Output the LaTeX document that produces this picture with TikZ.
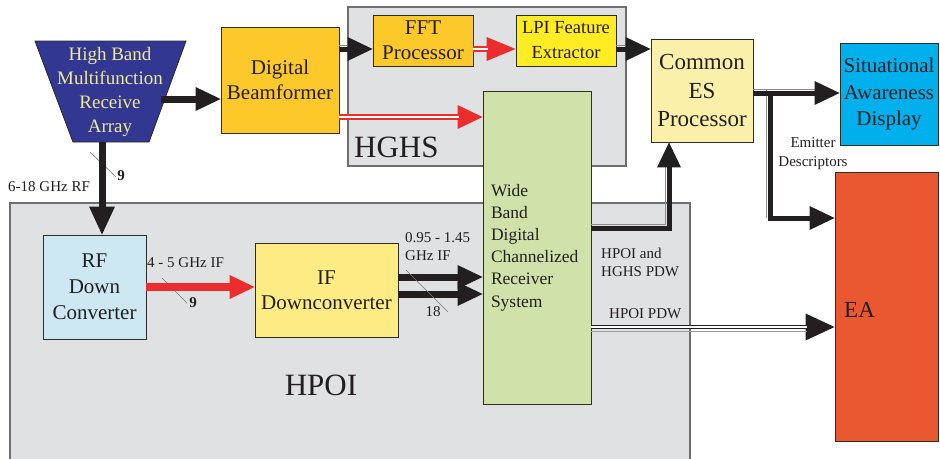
\documentclass[tikz,border=0pt]{standalone}
\usepackage{fontspec}
\setmainfont{Liberation Serif}
\usetikzlibrary{arrows.meta}
\definecolor{panelgray}{RGB}{224,225,227}
\definecolor{panelline}{RGB}{110,110,110}
\definecolor{boxline}{RGB}{45,45,40}
\definecolor{txt}{RGB}{35,31,32}
\definecolor{arrblack}{RGB}{35,31,32}
\definecolor{arrred}{RGB}{236,45,46}
\definecolor{orangeY}{RGB}{253,200,42}
\definecolor{lpiY}{RGB}{255,236,35}
\definecolor{cesY}{RGB}{250,240,170}
\definecolor{sadB}{RGB}{0,176,236}
\definecolor{eaR}{RGB}{233,88,48}
\definecolor{wbG}{RGB}{208,226,170}
\definecolor{rfB}{RGB}{205,232,242}
\definecolor{ifY}{RGB}{253,236,132}
\definecolor{arrayB}{RGB}{50,56,146}
\definecolor{arrayT}{RGB}{240,232,150}
\definecolor{slashc}{RGB}{120,120,120}
\begin{document}
\begin{tikzpicture}[x=1pt,y=-1pt,
  box/.style={draw=boxline, line width=0.9pt, inner sep=0pt, align=center, text=txt, font=\fontsize{21}{25}\selectfont},
  panel/.style={fill=panelgray, draw=panelline, line width=1.1pt, inner sep=0pt},
  headtip/.style={-{Triangle[length=25pt,width=24pt,line width=0pt]}},
  blkarr/.style={headtip, draw=arrblack, line width=7pt},
  blkthin/.style={headtip, draw=arrblack, line width=5pt},
  redarr/.style={headtip, draw=arrred, line width=6pt},
  redgap/.style={draw=white, line width=1.2pt, shorten >=24pt},
  shadow/.style={draw=black!45, line width=0.8pt},
  lbl/.style={text=txt, inner sep=0pt, font=\fontsize{15}{18}\selectfont},
  slashline/.style={draw=slashc, line width=0.6pt},
  bigtxt/.style={text=txt, inner sep=0pt, font=\fontsize{31}{31}\selectfont},
]
\clip (0,0) rectangle (940,458);
\fill[white] (0,0) rectangle (940,458);

% panels
\node[panel, minimum width=278, minimum height=159] (hghs) at (487,86.5) {};
\node[panel, minimum width=680, minimum height=280] (hpoi) at (350,343) {};
\node[bigtxt, anchor=west] (hghslbl) at (354,147) {HGHS};
\node[bigtxt] (hpoilbl) at (321,385) {HPOI};

% array (trapezoid)
\path[fill=arrayB, draw=boxline, line width=0.9pt] (35,41) -- (186,41) -- (149,142) -- (73,142) -- cycle;
\node[text=arrayT, align=center, inner sep=0pt, font=\fontsize{19}{23.7}\selectfont] (arr) at (110,92) {High Band\\Multifunction\\Receive\\Array};
\coordinate (arrE) at (161,99);
\coordinate (arrS) at (102,142);

% boxes
\node[box, fill=orangeY, minimum width=118, minimum height=106] (dbf) at (280,80) {Digital\\Beamformer};
\node[box, fill=orangeY, minimum width=100, minimum height=51] (fft) at (423,40.5) {FFT\\Processor};
\node[box, fill=lpiY, minimum width=100, minimum height=51, font=\fontsize{18.5}{25}\selectfont] (lpi) at (566,40.5) {LPI Feature\\Extractor};
\node[box, fill=cesY, minimum width=102, minimum height=103, font=\fontsize{23}{28.5}\selectfont] (ces) at (702,90.5) {Common\\ES\\Processor};
\node[box, fill=sadB, minimum width=98, minimum height=102, font=\fontsize{21}{26.5}\selectfont] (sad) at (889,94) {Situational\\Awareness\\Display};
\node[box, fill=eaR, minimum width=103, minimum height=269] (ea) at (886.5,306.5) {};
\node[text=txt, inner sep=0pt, font=\fontsize{23}{23}\selectfont, anchor=west] (ealbl) at (844,310) {EA};
\node[box, fill=wbG, minimum width=108, minimum height=313, text width=92, align=left, font=\fontsize{17.5}{22.2}\selectfont] (wb) at (537,247.5) {Wide\\Band\\Digital\\Channelized\\Receiver\\System};
\node[box, fill=rfB, minimum width=103, minimum height=104, font=\fontsize{21}{26}\selectfont] (rfdc) at (94.5,287) {RF\\Down\\Converter};
\node[box, fill=ifY, minimum width=143, minimum height=94] (ifdc) at (326.5,290) {IF\\Downconverter};

% labels
\node[lbl, anchor=west] (l618) at (8,187) {6-18 GHz RF};
\draw[slashline] (90,152) -- (116,177);
\node[lbl] (n9a) at (121,176) {\textbf{9}};
\node[lbl, anchor=west] (l45) at (147,263) {4 - 5 GHz IF};
\draw[slashline] (162,278) -- (187,303);
\node[lbl] (n9b) at (193,303) {\textbf{9}};
\node[lbl, anchor=west] (l095) at (405,238) {0.95 - 1.45};
\node[lbl, anchor=west] (lghz) at (405,256) {GHz IF};
\node[lbl] (n18) at (433,312) {18};
\node[lbl, anchor=west] (lhh) at (601,253) {HPOI and};
\node[lbl, anchor=west] (lhh2) at (601,272) {HGHS PDW};
\node[lbl, anchor=west] (lhp) at (609,314) {HPOI PDW};
\node[lbl, align=center, font=\fontsize{15}{19}\selectfont] (lem) at (813,153.5) {Emitter\\Descriptors};

% connectors
\coordinate (r49) at (0,49);
\coordinate (r45) at (0,45);
\coordinate (r117) at (0,117);
\coordinate (r287) at (0,287);
\coordinate (r277) at (0,277);
\coordinate (r294) at (0,294);
\coordinate (r228) at (0,228);
\coordinate (r224) at (0,224);
\coordinate (c669) at (669,0);
\coordinate (c665) at (665,0);
\coordinate (r93) at (0,93);
\coordinate (r89) at (0,89);
\coordinate (brn) at (770,93);
\coordinate (brs) at (766,89);
\coordinate (r218) at (0,218);
\coordinate (r327) at (0,327);
\coordinate (r331) at (0,331);

% faint shadow lines beside black connectors
\draw[shadow, shorten >=25pt] (dbf.east |- r45) -- (fft.west |- r45);
\draw[shadow, shorten >=25pt] (lpi.east |- r45) -- (ces.west |- r45);
\draw[shadow, shorten >=25pt] (ces.east |- r89) -- (sad.west |- r89);
\draw[shadow] (brs) -- (brs |- r218);
\draw[shadow, shorten >=25pt] (wb.east |- r224) -| (c665 |- ces.south);

\draw[blkarr] (arrE) -- (arrE -| dbf.west);
\draw[blkarr, -{Triangle[length=28pt,width=26pt,line width=0pt]}] (arrS) -- (arrS |- rfdc.north);
\draw[blkthin] (dbf.east |- r49) -- (fft.west |- r49);
\draw[redarr, -{Triangle[length=29pt,width=24pt,line width=0pt]}] (fft.east |- r49) -- (lpi.west |- r49);
\draw[redgap, shorten >=28pt] (fft.east |- r49) -- (lpi.west |- r49);
\draw[blkthin] (lpi.east |- r49) -- (ces.west |- r49);
\draw[redarr] (dbf.east |- r117) -- (wb.west |- r117);
\draw[redgap] (dbf.east |- r117) -- (wb.west |- r117);
\draw[redarr, line width=8pt] (rfdc.east |- r287) -- (ifdc.west |- r287);
\draw[blkarr] (ifdc.east |- r277) -- (wb.west |- r277);
\draw[blkarr] (ifdc.east |- r294) -- (wb.west |- r294);
\draw[slashline] (406,270) -- (448,312);
\draw[blkthin] (wb.east |- r228) -| (c669 |- ces.south);
\draw[blkthin] (ces.east |- r93) -- (sad.west |- r93);
\draw[blkthin] (brn) |- (ea.west |- r218);
\draw[draw=arrblack, line width=1pt, -{Triangle[length=29pt,width=27pt,line width=0pt]}] (wb.east |- r327) -- (ea.west |- r327);
\draw[draw=arrblack, line width=1.2pt, double=white, double distance=2.2pt, shorten >=28pt] (wb.east |- r327) -- (ea.west |- r327);
\draw[draw=black!40, line width=0.8pt, shorten >=28pt] (wb.east |- r331) -- (ea.west |- r331);
\end{tikzpicture}
\end{document}
